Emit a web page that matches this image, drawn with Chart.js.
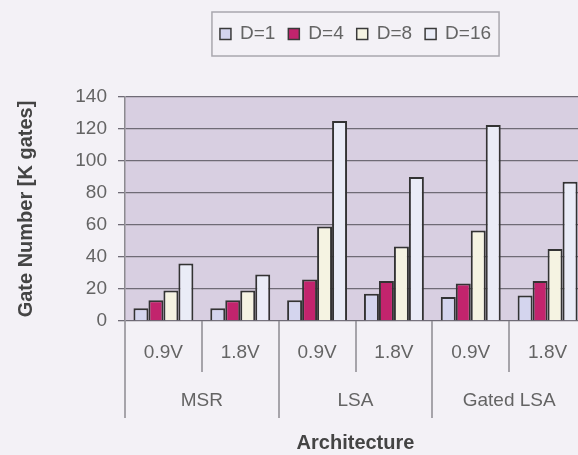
<!DOCTYPE html>
<html>
<head>
<meta charset="utf-8">
<script src="https://cdn.jsdelivr.net/npm/chart.js@4/dist/chart.umd.min.js"></script>
<style>
  html, body { margin: 0; padding: 0; background: #f3f1f6; overflow: hidden; }
  #wrap { position: relative; width: 600px; height: 455px; }
</style>
</head>
<body>
<div id="wrap"><canvas id="c" width="600" height="455"></canvas></div>
<script>
// Gate count (thousands of gates) per architecture / supply voltage / parallelism D
const voltages = ['0.9V', '1.8V', '0.9V', '1.8V', '0.9V', '1.8V'];
const architectures = ['MSR', 'LSA', 'Gated LSA'];
const seriesNames = ['D=1', 'D=4', 'D=8', 'D=16'];
const gatesD1  = [8, 8, 13, 17, 15, 16];
const gatesD4  = [13, 13, 26, 25, 23.5, 25];
const gatesD8  = [19, 19, 59, 46.5, 56.5, 45];
const gatesD16 = [36, 29, 125, 90, 122.5, 87];
const yTickValues = [0, 20, 40, 60, 80, 100, 120, 140];

const FONT = "'Liberation Sans', Arial, sans-serif";
const TEXT = '#646464';
const fills = ['#d4d5ee', '#c2246d', '#f5f3e2', '#eaecf7'];
const seriesValues = [gatesD1, gatesD4, gatesD8, gatesD16];

// Lavender plot background
const plotBackground = {
  id: 'plotBackground',
  beforeDraw(chart) {
    const { ctx, chartArea: a } = chart;
    ctx.save();
    ctx.fillStyle = '#d8cfe1';
    ctx.fillRect(a.left, a.top, a.right - a.left, a.bottom - a.top);
    ctx.restore();
  }
};

// Two-level category axis: voltage dividers and architecture group labels
const groupAxis = {
  id: 'groupAxis',
  afterDraw(chart) {
    const { ctx } = chart;
    const x = chart.scales.x;
    const base = chart.chartArea.bottom;
    const n = voltages.length;
    ctx.save();
    ctx.strokeStyle = '#8c8a90';
    ctx.lineWidth = 1.5;
    for (let i = 0; i <= n; i++) {
      const bx = Math.round(i === n ? x.right : (i === 0 ? x.left : (x.getPixelForValue(i - 1) + x.getPixelForValue(i)) / 2));
      const isGroupEdge = i % 2 === 0;
      ctx.beginPath();
      ctx.moveTo(bx, base);
      ctx.lineTo(bx, base + (isGroupEdge ? 97 : 51));
      ctx.stroke();
    }
    ctx.fillStyle = TEXT;
    ctx.font = '19px ' + FONT;
    ctx.textAlign = 'center';
    ctx.textBaseline = 'middle';
    architectures.forEach((name, g) => {
      const cx = (x.getPixelForValue(2 * g) + x.getPixelForValue(2 * g + 1)) / 2;
      ctx.fillText(name, cx, base + 80);
    });
    ctx.restore();
  }
};

// Boxed legend centred over the plot
const boxedLegend = {
  id: 'boxedLegend',
  afterDraw(chart) {
    const { ctx, chartArea: a } = chart;
    ctx.save();
    ctx.font = '19px ' + FONT;
    const marker = 11, textGap = 9, itemGap = 13;
    const widths = seriesNames.map(s => ctx.measureText(s).width);
    let total = 0;
    widths.forEach((w, i) => { total += marker + textGap + w + (i ? itemGap : 0); });
    const cx = (a.left + a.right) / 2;
    const cy = 34;
    const padX = 8;
    let x0 = cx - total / 2;
    ctx.strokeStyle = '#a9a7ae';
    ctx.lineWidth = 1.5;
    ctx.strokeRect(x0 - padX, 12, total + 2 * padX, 44);
    ctx.textBaseline = 'middle';
    ctx.textAlign = 'left';
    chart.data.datasets.forEach((ds, i) => {
      ctx.fillStyle = ds.backgroundColor;
      ctx.fillRect(x0, cy - marker / 2, marker, marker);
      ctx.strokeStyle = '#3a3a3a';
      ctx.lineWidth = 1.5;
      ctx.strokeRect(x0, cy - marker / 2, marker, marker);
      ctx.fillStyle = TEXT;
      ctx.fillText(seriesNames[i], x0 + marker + textGap, cy);
      x0 += marker + textGap + widths[i] + itemGap;
    });
    ctx.restore();
  }
};

new Chart(document.getElementById('c'), {
  type: 'bar',
  data: {
    labels: voltages,
    datasets: seriesNames.map((name, i) => ({
      label: name,
      data: seriesValues[i],
      backgroundColor: fills[i],
      borderColor: '#333333',
      borderWidth: 2,
      categoryPercentage: 0.78,
      barPercentage: 1.0
    }))
  },
  options: {
    responsive: false,
    animation: false,
    devicePixelRatio: 1,
    layout: { padding: { top: 97, right: 14, left: 0, bottom: 0 } },
    plugins: { legend: { display: false }, tooltip: { enabled: false } },
    scales: {
      x: {
        grid: { display: false, drawTicks: false },
        border: { display: false },
        ticks: { color: TEXT, font: { family: FONT, size: 19 }, padding: 20, maxRotation: 0, autoSkip: false },
        title: { display: true, text: 'Architecture', color: '#444', font: { family: FONT, size: 20, weight: 'bold' }, padding: { top: 0, bottom: 0 } },
        afterFit(scale) { scale.height = 134; }
      },
      y: {
        min: 0,
        max: 140,
        afterBuildTicks(scale) { scale.ticks = yTickValues.map(v => ({ value: v })); },
        grid: { color: '#6f6b76', lineWidth: 1.3, tickLength: 7, drawTicks: true },
        border: { display: true, color: '#8c8a90', width: 1.5 },
        ticks: { color: TEXT, font: { family: FONT, size: 19 }, padding: 11 },
        title: { display: true, text: 'Gate Number [K gates]', color: '#444', font: { family: FONT, size: 20, weight: 'bold' }, padding: { top: 14, bottom: 0 } },
        afterFit(scale) { scale.width = 125; }
      }
    }
  },
  plugins: [plotBackground, groupAxis, boxedLegend]
});
</script>
</body>
</html>
